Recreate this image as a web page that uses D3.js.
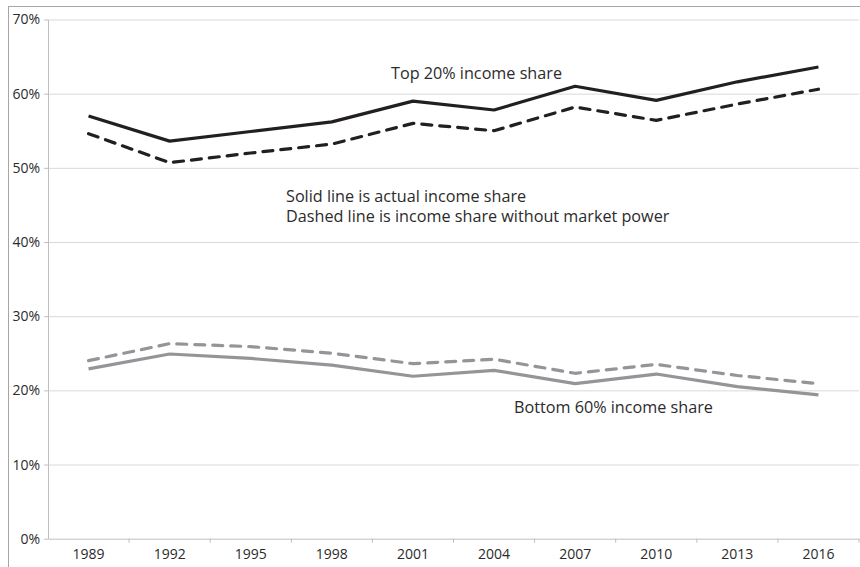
<!DOCTYPE html>
<html>
<head>
<meta charset="utf-8">
<script src="https://cdn.jsdelivr.net/npm/d3@7"></script>
<style>
    body { margin: 0; background: #fff; }
    text { font-family: "Open Sans", Lato, sans-serif; fill: #2b2b2b; }
</style>
</head>
<body>
<div id="chart"></div>
<script>
// data (shares in %)
const years = ["1989", "1992", "1995", "1998", "2001", "2004", "2007", "2010", "2013", "2016"];
const top20Actual = [57.0, 53.6, 54.9, 56.2, 59.0, 57.8, 61.0, 59.1, 61.6, 63.6];
const top20NoPower = [54.6, 50.7, 52.0, 53.2, 56.0, 55.0, 58.2, 56.4, 58.6, 60.6];
const bottom60Actual = [22.9, 24.9, 24.3, 23.4, 21.9, 22.7, 20.9, 22.2, 20.5, 19.4];
const bottom60NoPower = [24.0, 26.3, 25.9, 25.0, 23.6, 24.2, 22.3, 23.5, 22.0, 20.9];
const yTicks = [0, 10, 20, 30, 40, 50, 60, 70];

// set the dimensions and margins of the graph
const W = 860, H = 567;
const margin = { top: 19.5, right: 1, bottom: 28.3, left: 48 },
    width = W - margin.left - margin.right,
    height = H - margin.top - margin.bottom;

const svg = d3.select("#chart").append("svg")
    .attr("width", W)
    .attr("height", H);

// outer frame (cut off at right and bottom like the picture)
svg.append("rect")
    .attr("x", 8.5).attr("y", 6.5)
    .attr("width", W + 20).attr("height", H + 20)
    .attr("fill", "none")
    .attr("stroke", "#a6a6a6")
    .attr("stroke-width", 1);

const g = svg.append("g")
    .attr("transform", "translate(" + margin.left + "," + margin.top + ")");

// set the ranges
const x = d3.scaleBand().domain(years).range([0, width]);
const y = d3.scaleLinear().domain([0, 70]).range([height, 0]);

// gridlines
g.append("g")
    .attr("class", "grid")
    .call(d3.axisLeft(y).tickValues(yTicks.filter(d => d > 0)).tickSize(-width).tickFormat(""))
    .call(s => s.select(".domain").remove())
    .call(s => s.selectAll("line").attr("stroke", "#d9d9d9"));

// Y axis
g.append("g")
    .call(d3.axisLeft(y).tickValues(yTicks).tickSize(4).tickSizeOuter(0).tickPadding(4)
        .tickFormat(d => d + "%"))
    .call(s => s.select(".domain").attr("stroke", "#bfbfbf"))
    .call(s => s.selectAll(".tick line").attr("stroke", "#bfbfbf"))
    .call(s => s.selectAll("text").attr("font-size", 14).attr("fill", "#2b2b2b"));

// X axis: labels at the centre, tick marks between categories
const xAxis = g.append("g")
    .attr("transform", "translate(0," + height + ")")
    .call(d3.axisBottom(x).tickSize(0).tickSizeOuter(0).tickPadding(10))
    .call(s => s.select(".domain").attr("stroke", "#bfbfbf"))
    .call(s => s.selectAll("text").attr("font-size", 14).attr("fill", "#2b2b2b"));

xAxis.selectAll(".sep")
    .data(years.slice(1).map(d => x(d)).concat([x.range()[1]]))
    .enter().append("line")
    .attr("x1", d => d).attr("x2", d => d)
    .attr("y1", 0).attr("y2", 4)
    .attr("stroke", "#bfbfbf");

// define the line
const line = d3.line()
    .x((d, i) => x(years[i]) + x.bandwidth() / 2)
    .y(d => y(d));

const series = [
    { values: top20Actual, color: "#231f20", dash: null },
    { values: top20NoPower, color: "#231f20", dash: "10,8" },
    { values: bottom60Actual, color: "#949598", dash: null },
    { values: bottom60NoPower, color: "#949598", dash: "10,8" }
];

series.forEach(s => {
    g.append("path")
        .datum(s.values)
        .attr("fill", "none")
        .attr("stroke", s.color)
        .attr("stroke-width", 3.2)
        .attr("stroke-linejoin", "round")
        .attr("stroke-linecap", s.dash ? "round" : "butt")
        .attr("stroke-dasharray", s.dash)
        .attr("d", line);
});

// annotations
const notes = [
    { text: "Top 20% income share", x: 391, y: 79 },
    { text: "Solid line is actual income share", x: 286, y: 202 },
    { text: "Dashed line is income share without market power", x: 286, y: 222 },
    { text: "Bottom 60% income share", x: 514, y: 413 }
];

svg.selectAll(".note")
    .data(notes)
    .enter().append("text")
    .attr("class", "note")
    .attr("x", d => d.x)
    .attr("y", d => d.y)
    .attr("font-size", 16.2)
    .text(d => d.text);
</script>
</body>
</html>
